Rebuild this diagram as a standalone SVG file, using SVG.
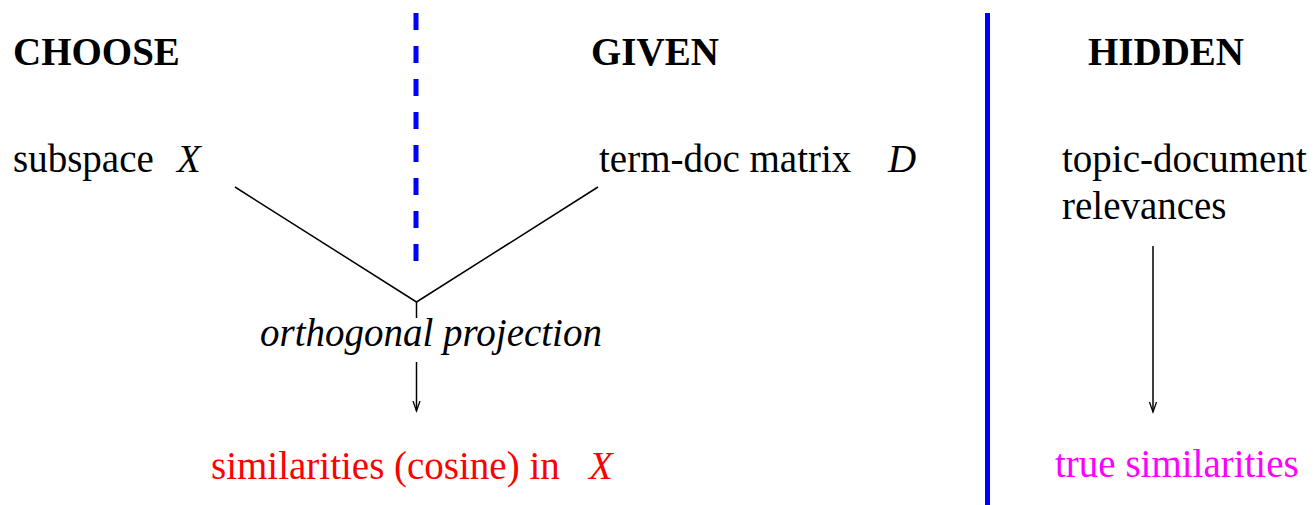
<svg xmlns="http://www.w3.org/2000/svg" width="1316" height="505" viewBox="0 0 1316 505">
<style>
text{font-family:"Liberation Serif","Times New Roman",serif;font-size:39px;fill:#000}
.b{font-weight:bold}
.i{font-style:italic}
.red{fill:#ff0000}
.mag{fill:#ff00ff}
.ln{stroke:#000;stroke-width:1.5;fill:none}
</style>
<defs>
<marker id="ah" markerWidth="12" markerHeight="14" refX="10" refY="7" orient="auto" markerUnits="userSpaceOnUse">
<path d="M0,3.5 L10,7 L0,10.5" fill="none" stroke="#000" stroke-width="1.3"/>
</marker>
</defs>
<rect width="1316" height="505" fill="#fff"/>
<g id="dividers">
<line x1="416" y1="13" x2="416" y2="262" stroke="#0000ff" stroke-width="5" stroke-dasharray="17 16"/>
<line x1="987.5" y1="13" x2="987.5" y2="505" stroke="#0000ff" stroke-width="5"/>
</g>
<g id="headers">
<text class="b" x="13" y="65">CHOOSE</text>
<text class="b" x="591" y="65">GIVEN</text>
<text class="b" x="1088" y="65">HIDDEN</text>
</g>
<g id="subspace"><text x="13" y="172">subspace <tspan class="i" x="177">X</tspan></text></g>
<g id="termdoc"><text x="599" y="172">term-doc matrix <tspan class="i" x="888">D</tspan></text></g>
<g id="projection"><text class="i" x="260" y="346">orthogonal projection</text></g>
<g id="cosine"><text class="red" x="211" y="479">similarities (cosine) in <tspan class="i" x="589">X</tspan></text></g>
<g id="relevances"><text x="1062" y="172">topic-document</text><text x="1062" y="219">relevances</text></g>
<g id="truesim"><text class="mag" x="1055" y="477">true similarities</text></g>
<g id="connectors">
<polyline class="ln" points="235,187 416.5,302 598,187"/>
<line class="ln" x1="416.5" y1="302" x2="416.5" y2="318"/>
<line class="ln" x1="416.5" y1="362" x2="416.5" y2="411" marker-end="url(#ah)"/>
<line class="ln" x1="1153" y1="246" x2="1153" y2="412" marker-end="url(#ah)"/>
</g>
</svg>
